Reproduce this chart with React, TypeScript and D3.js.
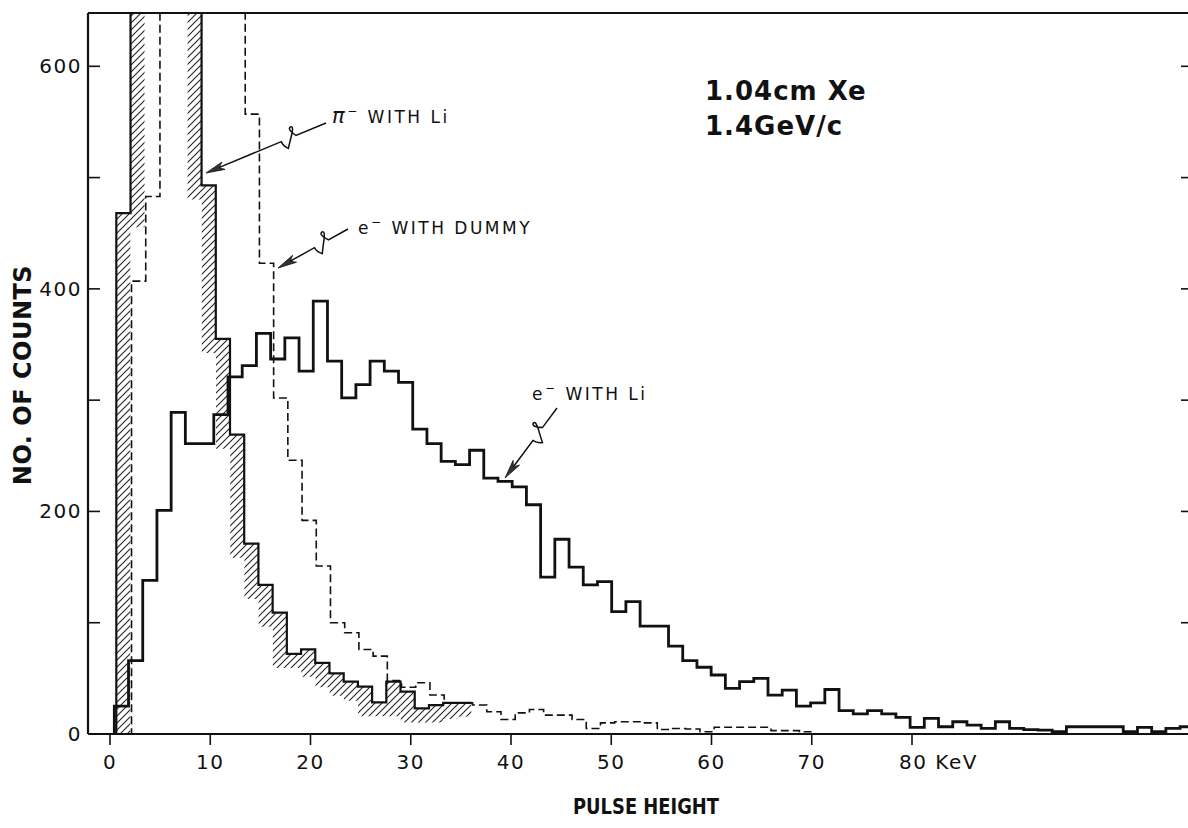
import React from "react";
import * as d3 from "d3";

// ---------- data ----------
// histogram channels (keV): first edge and width
const BIN_START = 0.43;
const BIN_WIDTH = 1.4175;
const OFF = 720; // bin runs off the top of the frame

const E_LI_COUNTS = [
  25, 66, 138, 201, 289, 261, 261, 287, 321, 331, 360, 337, 356, 326, 389, 335,
  302, 314, 335, 326, 316, 274, 261, 245, 242, 255, 230, 227, 222, 206, 141, 175,
  150, 134, 137, 110, 119, 97, 97, 79, 66, 60, 53, 41, 47, 50, 35, 39.5, 25, 28,
  40, 21, 18, 21, 18, 15, 6, 14, 6.5, 11, 8, 5, 11, 5, 4, 3.5, 2, 6.5, 6.5, 6.5,
  6.5, 2, 6, 2, 5, 6.5,
];
const PI_SHIFT = 0.2;
const PI_LI_COUNTS = [
  468, OFF, OFF, OFF, OFF, OFF, 493, 355, 269, 171, 134, 109, 72, 76, 64, 54.5,
  47, 42.5, 28.5, 47, 38, 23, 26, 28, 28,
];
const DUMMY_SHIFT = 0.3;
const E_DUMMY_COUNTS = [
  0, 407, 483, OFF, OFF, OFF, OFF, OFF, OFF, 557, 423, 302, 246, 192, 151, 100,
  91, 76, 70, 48, 42, 46, 35, 28, 28, 26, 20, 13, 19, 22, 17, 17, 13, 5, 10, 11,
  11, 10, 4, 5, 4.5, 2, 6, 6, 6, 6, 3, 3, 2,
];

const X_TICKS = [0, 10, 20, 30, 40, 50, 60, 70, 80];
const X_TICK_LABELS = ["0", "10", "20", "30", "40", "50", "60", "70", "80 KeV"];
const Y_MAJOR = [0, 200, 400, 600];
const Y_MINOR = [100, 300, 500];
const RIGHT_TICKS = [100, 200, 300, 400, 500, 600];

// ---------- layout ----------
const W = 1188;
const H = 828;
const LEFT = 88;
const TOP = 13;
const RIGHT = 1188;
const BOTTOM = 734;
const FONT = "'DejaVu Sans', 'Liberation Sans', sans-serif";

type P = [number, number];

function steps(counts: number[], shift: number): P[] {
  const pts: P[] = [[BIN_START + shift, 0]];
  counts.forEach((c, i) => {
    const a = BIN_START + shift + i * BIN_WIDTH;
    pts.push([a, c], [a + BIN_WIDTH, c]);
  });
  return pts;
}

export default function App() {
  const x = d3.scaleLinear().domain([0, 80]).range([110, 912]);
  const y = d3.scaleLinear().domain([0, 647]).range([BOTTOM, TOP + 1]);
  const line = d3
    .line<P>()
    .x((d) => x(d[0]))
    .y((d) => y(d[1]));

  const eLiPts = steps(E_LI_COUNTS, 0);
  const piPts = steps(PI_LI_COUNTS, PI_SHIFT);
  const dumPts = steps(E_DUMMY_COUNTS, DUMMY_SHIFT);
  dumPts.push([dumPts[dumPts.length - 1][0], 0]);

  const piOutline = line(piPts) || "";
  const piLast = piPts[piPts.length - 1];
  const piArea = (line([...piPts, [piLast[0], 0]]) || "") + "Z";

  const arrow = (sx: number, sy: number, tx: number, ty: number, t: number, key: string) => {
    const dx = tx - sx;
    const dy = ty - sy;
    const L = Math.hypot(dx, dy);
    const ux = dx / L;
    const uy = dy / L;
    const nx = -uy;
    const ny = ux;
    const ax = sx + ux * L * t;
    const ay = sy + uy * L * t;
    const pt = (f: number, g: number) => `${ax + ux * f + nx * g},${ay + uy * f + ny * g}`;
    const shaft =
      `M${sx},${sy} L${ax},${ay} ` +
      `Q${pt(6, 9)} ${pt(2, 10)} ` +
      `Q${pt(-2, 10)} ${pt(4, 2)} ` +
      `Q${pt(10, -6)} ${pt(12, -9)} ` +
      `Q${pt(16, -5)} ${pt(16, 0)} ` +
      `L${tx - ux * 10},${ty - uy * 10}`;
    const hl = 19;
    const hw = 4;
    const head = `M${tx},${ty} L${tx - ux * hl + nx * hw},${ty - uy * hl + ny * hw} L${tx - ux * (hl - 5)},${ty - uy * (hl - 5)} L${tx - ux * hl - nx * hw},${ty - uy * hl - ny * hw} Z`;
    return (
      <g key={key}>
        <path d={shaft} fill="none" stroke="#111" strokeWidth={1.5} />
        <path d={head} fill="#333" stroke="#111" strokeWidth={0.8} />
      </g>
    );
  };

  return (
    <svg
      width={W}
      height={H}
      style={{ position: "absolute", left: 0, top: 0, background: "#fff" }}
      fontFamily={FONT}
    >
      <defs>
        <clipPath id="plot">
          <rect x={LEFT} y={TOP} width={RIGHT - LEFT} height={BOTTOM - TOP} />
        </clipPath>
        <clipPath id="piArea">
          <path d={piArea} />
        </clipPath>
        <mask id="piBand" maskUnits="userSpaceOnUse" x={0} y={-200} width={W} height={H + 400}>
          <rect x={0} y={-200} width={W} height={H + 400} fill="black" />
          <path d={piOutline} fill="none" stroke="white" strokeWidth={28} strokeLinejoin="miter" />
        </mask>
        <pattern id="hatch" patternUnits="userSpaceOnUse" width={7} height={7}>
          <path d="M-1,8 L8,-1 M-1,1 L1,-1 M6,8 L8,6" stroke="#222" strokeWidth={1.1} />
        </pattern>
      </defs>
      <rect x={0} y={0} width={W} height={H} fill="#fff" />

      <g clipPath="url(#plot)">
        {/* hatch band inside pi histogram */}
        <g clipPath="url(#piArea)">
          <rect
            x={LEFT}
            y={TOP}
            width={RIGHT - LEFT}
            height={BOTTOM - TOP}
            fill="url(#hatch)"
            mask="url(#piBand)"
          />
        </g>
        <path d={piOutline} fill="none" stroke="#111" strokeWidth={2.2} />
        <path
          d={line(dumPts) || ""}
          fill="none"
          stroke="#111"
          strokeWidth={1.6}
          strokeDasharray="8,4"
        />
        <path d={line(eLiPts) || ""} fill="none" stroke="#111" strokeWidth={2.8} />
      </g>

      {/* frame */}
      <line x1={LEFT} y1={TOP} x2={RIGHT} y2={TOP} stroke="#111" strokeWidth={2.2} />
      <line x1={LEFT} y1={TOP} x2={LEFT} y2={BOTTOM} stroke="#111" strokeWidth={2.2} />
      <line x1={LEFT} y1={BOTTOM} x2={RIGHT} y2={BOTTOM} stroke="#111" strokeWidth={2.2} />

      {/* x ticks */}
      {X_TICKS.map((v, i) => {
        const label = X_TICK_LABELS[i];
        const hasUnit = label.includes(" ");
        return (
          <g key={"xt" + v}>
            <line x1={x(v)} y1={BOTTOM} x2={x(v)} y2={BOTTOM + 11} stroke="#111" strokeWidth={1.6} />
            <text
              x={hasUnit ? x(v) - 13 : x(v)}
              y={769}
              textAnchor={hasUnit ? "start" : "middle"}
              fontSize={20}
              fill="#111"
              letterSpacing={1.5}
            >
              {label}
            </text>
          </g>
        );
      })}

      {/* y ticks */}
      {[...Y_MAJOR, ...Y_MINOR].map((v) => (
        <line key={"yt" + v} x1={LEFT} y1={y(v)} x2={LEFT + 12} y2={y(v)} stroke="#111" strokeWidth={1.6} />
      ))}
      {Y_MAJOR.map((v) => (
        <text
          key={"yl" + v}
          x={82}
          y={y(v) + 7}
          textAnchor="end"
          fontSize={20}
          fill="#111"
          letterSpacing={1.5}
        >
          {String(v)}
        </text>
      ))}
      {RIGHT_TICKS.map((v) => (
        <line key={"rt" + v} x1={RIGHT - 7} y1={y(v)} x2={RIGHT} y2={y(v)} stroke="#111" strokeWidth={1.6} />
      ))}

      {/* axis titles */}
      <text
        transform="translate(31,375) rotate(-90)"
        textAnchor="middle"
        fontSize={24}
        fontWeight="bold"
        fill="#111"
        letterSpacing={0.5}
      >
        NO. OF COUNTS
      </text>
      <text
        x={573}
        y={814}
        fontSize={22}
        fontWeight="bold"
        fill="#111"
        textLength={146}
        lengthAdjust="spacingAndGlyphs"
      >
        PULSE HEIGHT
      </text>

      {/* condition text */}
      <text x={705} y={100} fontSize={26} fontWeight="bold" fill="#111" letterSpacing={1}>
        1.04cm Xe
      </text>
      <text x={705} y={135} fontSize={26} fontWeight="bold" fill="#111" letterSpacing={1}>
        1.4GeV/c
      </text>

      {/* annotations */}
      <text x={332} y={123} fontSize={17} fill="#111" letterSpacing={2.5}>
        <tspan fontStyle="italic" fontSize={21}>π</tspan>
        <tspan dy={-8} fontSize={12}>−</tspan>
        <tspan dy={8}> WITH Li</tspan>
      </text>
      <text x={358} y={234} fontSize={17} fill="#111" letterSpacing={2.5}>
        <tspan>e</tspan>
        <tspan dy={-8} fontSize={12}>−</tspan>
        <tspan dy={8}> WITH DUMMY</tspan>
      </text>
      <text x={532} y={400} fontSize={17} fill="#111" letterSpacing={2.5}>
        <tspan>e</tspan>
        <tspan dy={-8} fontSize={12}>−</tspan>
        <tspan dy={8}> WITH Li</tspan>
      </text>

      {arrow(326, 123, 206, 173, 0.25, "a1")}
      {arrow(348, 229, 278, 268, 0.28, "a2")}
      {arrow(557, 408, 505, 478, 0.28, "a3")}
    </svg>
  );
}
